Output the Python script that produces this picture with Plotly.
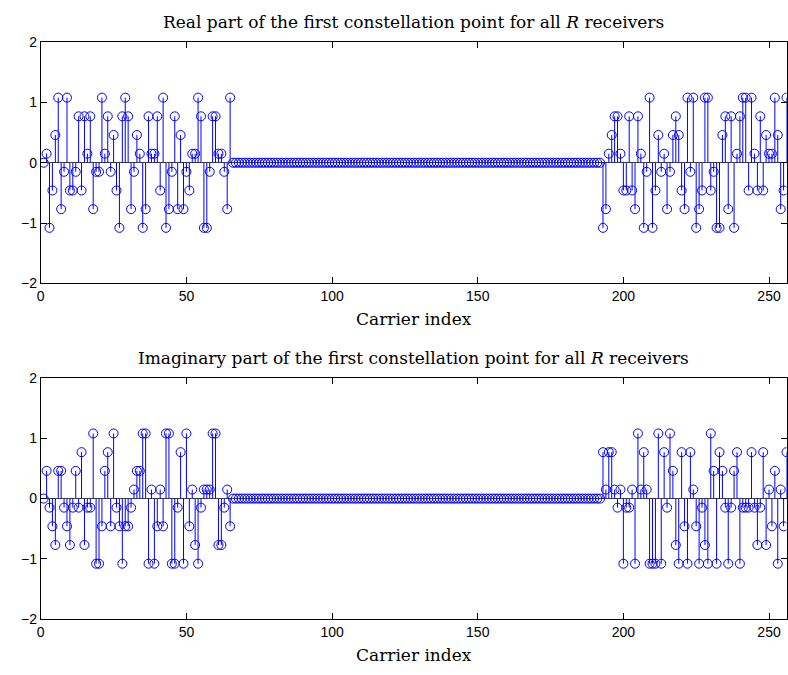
import plotly.graph_objects as go

# Carrier indices 1..256 (MATLAB style); index 1 is the DC carrier
carrier_index = list(range(1, 257))

# Real part, carriers 2..65
real_low = [0.15, -1.08, -0.46, 0.46, 1.08, -0.77, -0.15, 1.08, -0.46, -0.46,
            -0.15, 0.77, -0.46, 0.77, 0.15, 0.77, -0.77, -0.15, -0.15, 1.08,
            0.15, 0.77, -0.15, 0.46, -0.46, -1.08, 0.77, 1.08, 0.77, -0.77,
            -0.15, 0.46, 0.15, -1.08, -0.77, 0.77, 0.15, 0.15, 0.77, -0.46,
            1.08, -1.08, -0.77, -0.15, 0.77, -0.77, 0.46, -0.77, -0.15, -0.46,
            0.15, 0.15, 1.08, 0.77, -1.08, -1.08, -0.15, 0.77, 0.77, 0.15,
            0.15, -0.15, -0.77, 1.08]
# Real part, carriers 193..256
real_high = [-1.08, -0.77, 0.15, 0.46, 0.77, 0.77, 0.15, -0.46, -0.46, 0.77,
             -0.46, -0.77, 0.77, 0.15, -1.08, -0.15, 1.08, -1.08, -0.46, 0.46,
             -0.15, 0.15, -0.77, -0.15, 0.46, 0.77, 0.46, -0.46, -0.77, 1.08,
             -0.15, 1.08, -1.08, -0.77, -0.46, 1.08, 1.08, -0.46, -0.15, -1.08,
             -1.08, 0.46, 0.77, -0.77, 0.77, -1.08, 0.15, 0.77, 1.08, 1.08,
             -0.46, 1.08, 0.15, -0.46, 0.77, -0.46, 0.46, 0.15, 0.15, 1.08,
             0.46, -0.77, -0.46, 1.08]
# Imaginary part, carriers 2..65
imag_low = [0.46, -0.15, -0.46, -0.77, 0.46, 0.46, -0.15, -0.46, -0.77, -0.15,
            0.46, -0.15, 0.77, -0.77, -0.15, -0.15, 1.08, -1.08, -1.08, -0.46,
            0.46, 0.77, -0.46, 1.08, -0.15, -0.46, -1.08, -0.46, -0.46, -0.15,
            0.15, 0.46, 0.46, 1.08, 1.08, -1.08, 0.15, -1.08, -0.46, 0.15,
            -0.46, 1.08, 1.08, -1.08, -1.08, -0.15, 0.77, -1.08, 1.08, -0.46,
            0.15, -0.77, -1.08, -0.15, 0.15, 0.15, 0.15, 1.08, 1.08, -0.77,
            -0.77, -0.15, 0.15, -0.46]
# Imaginary part, carriers 193..256
imag_high = [0.77, 0.15, 0.77, 0.77, 0.15, -0.15, 0.15, -1.08, -0.15, -0.15,
             0.15, -1.08, 1.08, 0.15, 0.77, 0.15, -1.08, -1.08, -1.08, 1.08,
             -1.08, 0.77, -0.15, 1.08, 0.46, -0.77, -1.08, 0.77, -0.46, -1.08,
             0.77, 0.15, -0.46, -1.08, -0.15, -0.77, -1.08, 1.08, 0.46, -1.08,
             0.77, 0.46, -0.15, -1.08, -0.15, 0.46, 0.77, -1.08, -0.15, -0.15,
             -0.15, 0.77, -0.15, -0.77, -0.15, 0.77, -0.77, 0.15, -0.46, 0.46,
             -1.08, 0.15, -0.46, 0.77]
dc_value = [0.0]
guard_zeros = [0.0] * 127  # carriers 66..192 are unused

real_part = dc_value + real_low + guard_zeros + real_high
imag_part = dc_value + imag_low + guard_zeros + imag_high

x_ticks = [0, 50, 100, 150, 200, 250]
y_ticks = [-2, -1, 0, 1, 2]
titles = ["Real part of the first constellation point for all <i>R</i> receivers",
          "Imaginary part of the first constellation point for all <i>R</i> receivers"]
xlabel = "Carrier index"

W, H = 788, 675
BLUE = "#0000ff"
SERIF = "DejaVu Serif, Liberation Serif, serif"
SANS = "Liberation Sans, Arial, sans-serif"

fig = go.Figure()

def stem_xy(xs, ys):
    sx, sy = [], []
    for a, b in zip(xs, ys):
        sx += [a, a, None]
        sy += [0, b, None]
    return sx, sy

for k, vals in enumerate([real_part, imag_part]):
    xa = "x" if k == 0 else "x2"
    ya = "y" if k == 0 else "y2"
    sx, sy = stem_xy(carrier_index, vals)
    fig.add_trace(go.Scatter(x=sx, y=sy, mode="lines", xaxis=xa, yaxis=ya,
                             line=dict(color=BLUE, width=1), hoverinfo="skip",
                             showlegend=False))
    fig.add_trace(go.Scatter(x=carrier_index, y=vals, mode="markers", xaxis=xa, yaxis=ya,
                             marker=dict(symbol="circle-open", size=9, color=BLUE,
                                         line=dict(width=1, color=BLUE)),
                             showlegend=False))

x0, x1 = 37 / W, 787.5 / W
plot_px = [(35, 282), (379, 626)]
doms = [(1 - b / H, 1 - t / H) for t, b in plot_px]

axis_common = dict(showline=True, linecolor="black", linewidth=1, mirror="ticks",
                   ticks="inside", ticklen=6, tickcolor="black", showgrid=False,
                   tickfont=dict(family=SANS, size=14, color="black"))

fig.update_layout(
    width=W, height=H, margin=dict(l=0, r=0, t=0, b=0),
    paper_bgcolor="white", plot_bgcolor="white", showlegend=False,
    xaxis=dict(domain=[x0, x1], range=[0, 256], tickvals=x_ticks, anchor="y",
               zeroline=False, **axis_common),
    yaxis=dict(domain=list(doms[0]), range=[-2, 2], tickvals=y_ticks, anchor="x",
               zeroline=True, zerolinecolor="#404040", zerolinewidth=1, **axis_common),
    xaxis2=dict(domain=[x0, x1], range=[0, 256], tickvals=x_ticks, anchor="y2",
                zeroline=False, **axis_common),
    yaxis2=dict(domain=list(doms[1]), range=[-2, 2], tickvals=y_ticks, anchor="x2",
                zeroline=True, zerolinecolor="#404040", zerolinewidth=1, **axis_common),
)

ann = []
for k in range(2):
    top_px, bot_px = plot_px[k]
    ann.append(dict(text=titles[k], x=(x0 + x1) / 2, y=1 - (top_px - 21) / H,
                    xref="paper", yref="paper", showarrow=False,
                    xanchor="center", yanchor="middle",
                    font=dict(family=SERIF, size=17, color="black")))
    ann.append(dict(text=xlabel, x=(x0 + x1) / 2, y=1 - (bot_px + 37) / H,
                    xref="paper", yref="paper", showarrow=False,
                    xanchor="center", yanchor="middle",
                    font=dict(family=SERIF, size=17, color="black")))
fig.update_layout(annotations=ann)

fig.write_html("out.html")
